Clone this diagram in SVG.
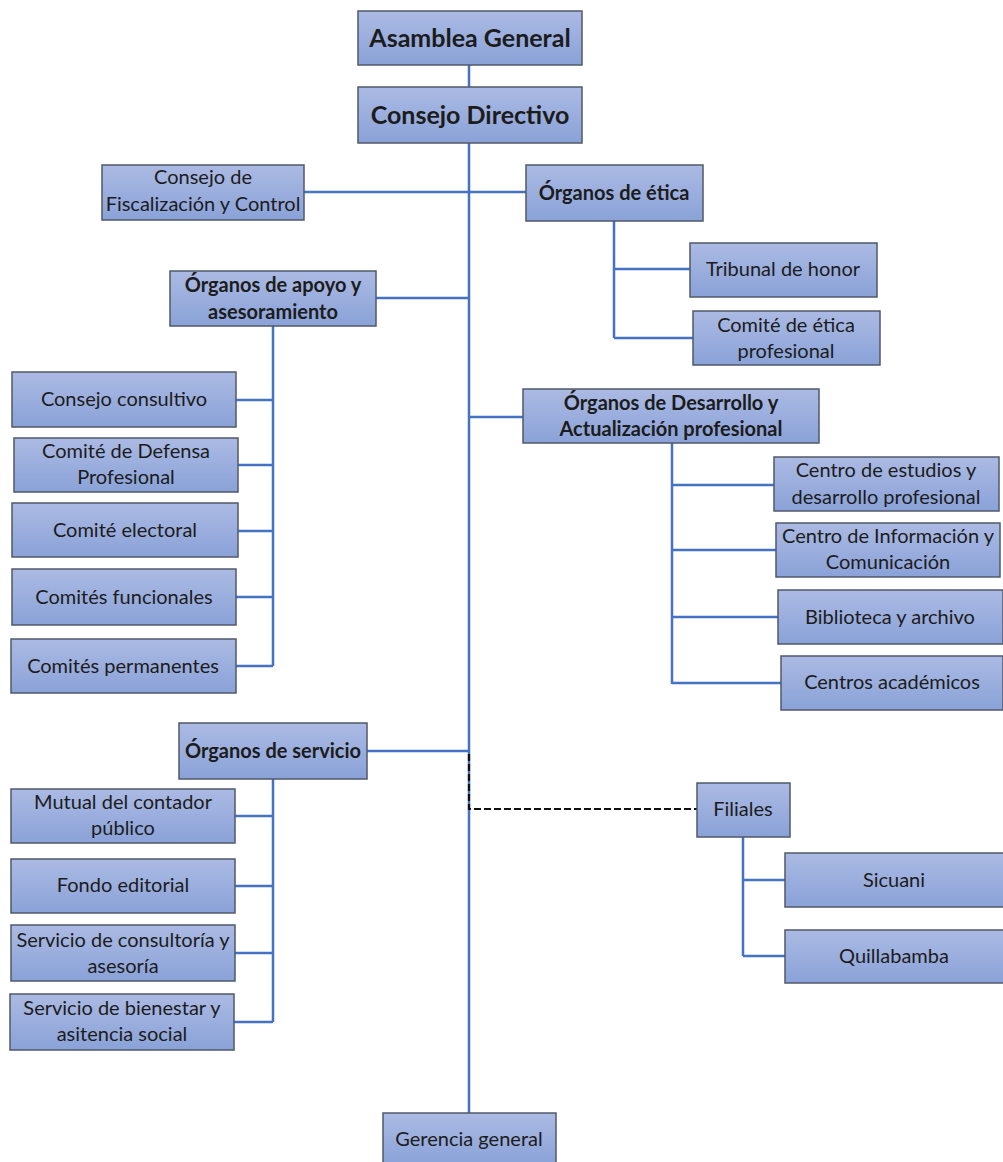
<svg xmlns="http://www.w3.org/2000/svg" width="1003" height="1162" viewBox="0 0 1003 1162">
<defs>
<linearGradient id="g" x1="0" y1="0" x2="0" y2="1">
<stop offset="0" stop-color="#abbae3"/>
<stop offset="1" stop-color="#8aa2d8"/>
</linearGradient>
<style>
.b{fill:url(#g);stroke:#505868;stroke-width:1.5}
.t{font-family:Lato,"Liberation Sans",sans-serif;font-size:20px;fill:#1c1c1c;text-anchor:middle}
.h{font-weight:bold}
.big{font-size:25px}
.c{fill:none;stroke:#4472c4;stroke-width:2.5}
.d{fill:none;stroke:#111;stroke-width:2.2;stroke-dasharray:7 3}
</style>
</defs>
<rect width="1003" height="1162" fill="#fff"/>
<g id="connectors">
<path class="c" d="M469 65V87M469 143V1113"/>
<path class="c" d="M304 192H469M469 192H526"/>
<path class="c" d="M614 221V338M614 269H690M614 338H693"/>
<path class="c" d="M376 298H469M273 326V666M236 400H273M238 465H273M238 531H273M236 597H273M236 666H273"/>
<path class="c" d="M469 417H523M672 443V684M672 485H774M672 550H776M672 617H778M672 683H781"/>
<path class="c" d="M367 751H469M273 779V1022M235 816H273M235 886H273M235 953H273M234 1022H273"/>
<path class="d" d="M469 754V809H697"/>
<path class="c" d="M743 837V956M743 880H785M743 956H785"/>
</g>
<g id="asamblea"><rect class="b" x="358" y="11" width="224" height="54"/><text class="t h big" x="470" y="47">Asamblea General</text></g>
<g id="consejo-directivo"><rect class="b" x="358" y="87" width="224" height="56"/><text class="t h big" x="470" y="124">Consejo Directivo</text></g>
<g id="fiscalizacion"><rect class="b" x="102" y="165" width="202" height="55"/><text class="t" x="203" y="184">Consejo de</text><text class="t" x="203" y="211">Fiscalización y Control</text></g>
<g id="etica"><rect class="b" x="526" y="165" width="177" height="56"/><text class="t h" x="614" y="200">Órganos de ética</text></g>
<g id="apoyo"><rect class="b" x="170" y="271" width="206" height="55"/><text class="t h" x="273" y="292">Órganos de apoyo y</text><text class="t h" x="273" y="319">asesoramiento</text></g>
<g id="tribunal"><rect class="b" x="690" y="243" width="187" height="54"/><text class="t" x="783" y="276">Tribunal de honor</text></g>
<g id="comite-etica"><rect class="b" x="693" y="311" width="187" height="54"/><text class="t" x="786" y="332">Comité de ética</text><text class="t" x="786" y="358">profesional</text></g>
<g id="consultivo"><rect class="b" x="12" y="372" width="224" height="55"/><text class="t" x="124" y="406">Consejo consultivo</text></g>
<g id="defensa"><rect class="b" x="14" y="438" width="224" height="54"/><text class="t" x="126" y="458">Comité de Defensa</text><text class="t" x="126" y="484">Profesional</text></g>
<g id="electoral"><rect class="b" x="12" y="503" width="226" height="54"/><text class="t" x="125" y="537">Comité electoral</text></g>
<g id="funcionales"><rect class="b" x="12" y="569" width="224" height="56"/><text class="t" x="124" y="604">Comités funcionales</text></g>
<g id="permanentes"><rect class="b" x="11" y="639" width="225" height="54"/><text class="t" x="123" y="673">Comités permanentes</text></g>
<g id="desarrollo"><rect class="b" x="523" y="389" width="296" height="54"/><text class="t h" x="671" y="410">Órganos de Desarrollo y</text><text class="t h" x="671" y="436">Actualización profesional</text></g>
<g id="estudios"><rect class="b" x="774" y="457" width="225" height="54"/><text class="t" x="886" y="477">Centro de estudios y</text><text class="t" x="886" y="504">desarrollo profesional</text></g>
<g id="informacion"><rect class="b" x="776" y="523" width="224" height="54"/><text class="t" x="888" y="543">Centro de Información y</text><text class="t" x="888" y="569">Comunicación</text></g>
<g id="biblioteca"><rect class="b" x="778" y="590" width="225" height="54"/><text class="t" x="890" y="624">Biblioteca y archivo</text></g>
<g id="academicos"><rect class="b" x="781" y="656" width="222" height="54"/><text class="t" x="892" y="689">Centros académicos</text></g>
<g id="servicio"><rect class="b" x="179" y="723" width="188" height="56"/><text class="t h" x="273" y="758">Órganos de servicio</text></g>
<g id="mutual"><rect class="b" x="11" y="789" width="224" height="54"/><text class="t" x="123" y="809">Mutual del contador</text><text class="t" x="123" y="835">público</text></g>
<g id="fondo"><rect class="b" x="11" y="859" width="224" height="54"/><text class="t" x="123" y="892">Fondo editorial</text></g>
<g id="consultoria"><rect class="b" x="11" y="925" width="224" height="56"/><text class="t" x="123" y="947">Servicio de consultoría y</text><text class="t" x="123" y="973">asesoría</text></g>
<g id="bienestar"><rect class="b" x="10" y="994" width="224" height="56"/><text class="t" x="122" y="1015">Servicio de bienestar y</text><text class="t" x="122" y="1041">asitencia social</text></g>
<g id="filiales"><rect class="b" x="697" y="783" width="93" height="54"/><text class="t" x="743" y="816">Filiales</text></g>
<g id="sicuani"><rect class="b" x="785" y="853" width="220" height="54"/><text class="t" x="894" y="887">Sicuani</text></g>
<g id="quillabamba"><rect class="b" x="785" y="930" width="220" height="53"/><text class="t" x="894" y="963">Quillabamba</text></g>
<g id="gerencia"><rect class="b" x="383" y="1113" width="173" height="52"/><text class="t" x="469" y="1146">Gerencia general</text></g>
</svg>
